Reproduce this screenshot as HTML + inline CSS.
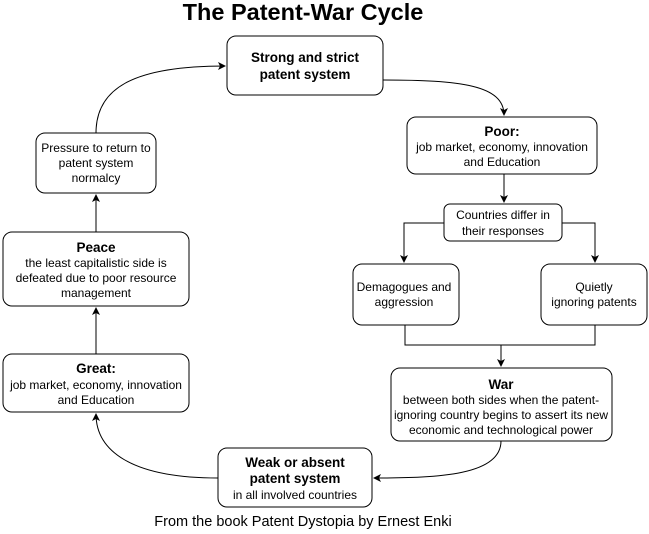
<!DOCTYPE html>
<html><head><style>
body{margin:0;background:#fff;}
svg text{font-family:"Liberation Sans",Arial,sans-serif;fill:#000;}
</style></head><body>
<svg width="649" height="529" viewBox="0 0 649 529" xmlns="http://www.w3.org/2000/svg">
<defs><marker id="a" markerWidth="8" markerHeight="8" refX="7" refY="4" orient="auto" markerUnits="userSpaceOnUse"><path d="M0,0 L8,4 L0,8 L2,4 Z" fill="#000"/></marker></defs>
<text x="303" y="20" font-size="23.5" font-weight="bold" text-anchor="middle">The Patent-War Cycle</text>
<g fill="#fff" stroke="#000" stroke-width="1">
<rect x="227" y="36" width="156" height="59" rx="9"/>
<rect x="407" y="117" width="190" height="57" rx="9"/>
<rect x="444" y="204" width="118" height="37" rx="6"/>
<rect x="353" y="264" width="106" height="61" rx="9"/>
<rect x="541" y="264" width="106" height="61" rx="9"/>
<rect x="391" y="368" width="221" height="73" rx="9"/>
<rect x="218" y="448" width="154" height="59" rx="9"/>
<rect x="3" y="354" width="186" height="58" rx="9"/>
<rect x="3" y="232" width="186" height="74" rx="9"/>
<rect x="36" y="133" width="120" height="60" rx="9"/>
</g>
<g fill="none" stroke="#000" stroke-width="1">
<path d="M383,80 C460,80 504,85 504,115" marker-end="url(#a)"/>
<path d="M504,174 L504,202" marker-end="url(#a)"/>
<path d="M444,223 L404,223 L404,262" marker-end="url(#a)"/>
<path d="M562,223 L595,223 L595,262" marker-end="url(#a)"/>
<path d="M405,325 L405,345 L595,345 L595,325"/>
<path d="M501,345 L501,366" marker-end="url(#a)"/>
<path d="M501,441 C501,475 440,478 374,478" marker-end="url(#a)"/>
<path d="M218,478 C130,478 96,450 96,414" marker-end="url(#a)"/>
<path d="M96,354 L96,308" marker-end="url(#a)"/>
<path d="M96,232 L96,195" marker-end="url(#a)"/>
<path d="M96,133 C96,90 130,66 225,66" marker-end="url(#a)"/>
</g>
<g font-size="12" text-anchor="middle">
<text x="305" y="62" font-size="13.5" font-weight="bold">Strong and strict</text>
<text x="305" y="79" font-size="13.5" font-weight="bold">patent system</text>
<text x="502" y="136" font-size="13.5" font-weight="bold">Poor:</text>
<text x="502" y="151">job market, economy, innovation</text>
<text x="502" y="166">and Education</text>
<text x="503" y="219">Countries differ in</text>
<text x="503" y="235">their responses</text>
<text x="404" y="291">Demagogues and</text>
<text x="404" y="306">aggression</text>
<text x="594" y="291">Quietly</text>
<text x="594" y="306">ignoring patents</text>
<text x="501" y="389" font-size="13.5" font-weight="bold">War</text>
<text x="501" y="404">between both sides when the patent-</text>
<text x="501" y="419">ignoring country begins to assert its new</text>
<text x="501" y="434">economic and technological power</text>
<text x="295" y="467" font-size="13.5" font-weight="bold">Weak or absent</text>
<text x="295" y="483" font-size="13.5" font-weight="bold">patent system</text>
<text x="295" y="499">in all involved countries</text>
<text x="96" y="373" font-size="13.5" font-weight="bold">Great:</text>
<text x="96" y="389">job market, economy, innovation</text>
<text x="96" y="404">and Education</text>
<text x="96" y="252" font-size="13.5" font-weight="bold">Peace</text>
<text x="96" y="267">the least capitalistic side is</text>
<text x="96" y="282">defeated due to poor resource</text>
<text x="96" y="297">management</text>
<text x="96" y="152">Pressure to return to</text>
<text x="96" y="167">patent system</text>
<text x="96" y="182">normalcy</text>
<text x="303" y="526" font-size="14.5">From the book Patent Dystopia by Ernest Enki</text>
</g>
</svg>
</body></html>
